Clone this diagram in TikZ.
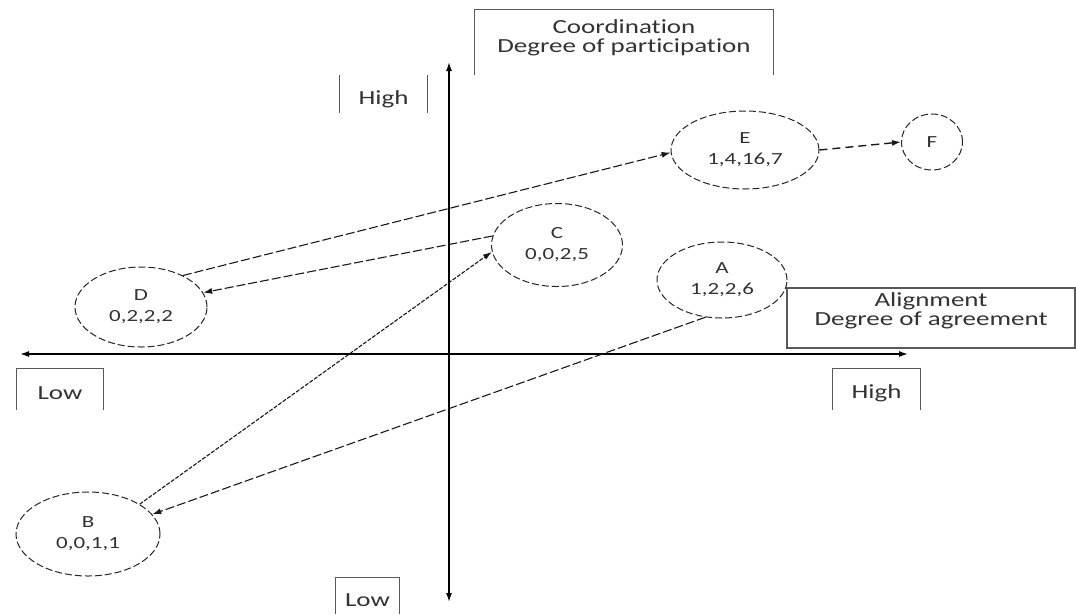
\documentclass[tikz,border=0pt]{standalone}
\usepackage{fontspec}
\setmainfont{Carlito}[FakeStretch=1.35,Ligatures=NoCommon]
\usetikzlibrary{shapes.geometric,arrows.meta}
\begin{document}
\begin{tikzpicture}[x=1pt,y=-1pt,
 stnode/.style={ellipse,draw=black!85,dash pattern=on 7pt off 3pt,line width=1pt,inner sep=0pt,align=center,font=\fontsize{17}{21}\selectfont,text=black!80},
 lbl/.style={inner sep=0pt,align=center,font=\fontsize{20}{19}\selectfont,text=black!80},
 boxline/.style={draw=black!65,line width=1.2pt},
 axisline/.style={line width=1.5pt,{Latex[length=9pt,width=6pt]}-{Latex[length=9pt,width=6pt]}},
 linkline/.style={draw=black!90,dash pattern=on 9pt off 3pt,line width=1.1pt,-{Latex[length=9pt,width=6pt]}}
]
\useasboundingbox (0,0) rectangle (1076,614);
\fill[white] (0,0) rectangle (1076,614);

% axes
\coordinate (axL) at (20,354);
\coordinate (axR) at (908,354);
\coordinate (axT) at (449,62);
\coordinate (axB) at (449,602);
\draw[axisline] (axL) -- (axR);
\draw[axisline] (axT) -- (axB);

% label boxes
\node[lbl,minimum width=298pt,minimum height=65pt] (coord) at (624,42.5) {};
\node[lbl] (coordt) at (624,38) {Coordination\\Degree of participation};
\draw[boxline] (coord.south west) -- (coord.north west) -- (coord.north east) -- (coord.south east);

\node[lbl,minimum width=87pt,minimum height=38pt] (hightop) at (383.5,94) {};
\node[lbl] (hightopt) at (383.5,99) {High};
\draw[boxline] (hightop.north west) -- (hightop.south west);
\draw[boxline] (hightop.north east) -- (hightop.south east);

\node[lbl,minimum width=86pt,minimum height=41pt] (lowleft) at (60,389.5) {};
\node[lbl] (lowleftt) at (60,393) {Low};
\draw[boxline] (lowleft.south west) -- (lowleft.north west) -- (lowleft.north east) -- (lowleft.south east);

\node[lbl,minimum width=87pt,minimum height=41pt] (highright) at (876.5,389.5) {};
\node[lbl] (highrightt) at (876.5,393) {High};
\draw[boxline] (highright.south west) -- (highright.north west) -- (highright.north east) -- (highright.south east);

\node[lbl,minimum width=63pt,minimum height=36pt] (lowbot) at (367.5,596) {};
\node[lbl] (lowbott) at (367.5,600) {Low};
\draw[boxline] (lowbot.south west) -- (lowbot.north west) -- (lowbot.north east) -- (lowbot.south east);

\node[lbl,boxline,fill=white,minimum width=288pt,minimum height=60pt] (align) at (931,318) {};
\node[lbl] (alignt) at (931,311) {Alignment\\Degree of agreement};

% states
\node[stnode,minimum width=148pt,minimum height=78pt] (E) at (745,150) {E\\1,4,16,7};
\node[stnode,minimum width=61pt,minimum height=56pt] (F) at (932,142) {F};
\node[stnode,minimum width=131pt,minimum height=83pt] (C) at (557,245) {C\\0,0,2,5};
\node[stnode,minimum width=130pt,minimum height=76pt] (A) at (722,280) {A\\1,2,2,6};
\node[stnode,minimum width=132pt,minimum height=80pt] (D) at (141,307) {D\\0,2,2,2};
\node[stnode,minimum width=144pt,minimum height=84pt] (B) at (88,534) {B\\0,0,1,1};

% connectors
\draw[linkline] (D.37) -- (E.182);
\draw[linkline] (C.172) -- (D.13);
\draw[linkline,dash pattern=on 4pt off 1.5pt] (B.30) -- (C.186);
\draw[linkline] (A.246) -- (B.17);
\draw[linkline,dash pattern=on 8pt off 5pt,line width=1.4pt] (E.east) -- (F.west);
\end{tikzpicture}
\end{document}
